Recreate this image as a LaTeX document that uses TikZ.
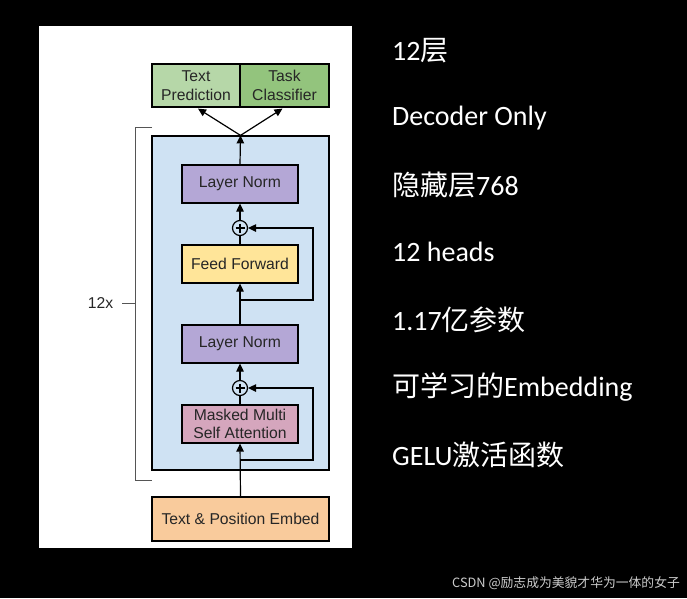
\documentclass[tikz,border=0pt]{standalone}
\usepackage{fontspec}
\setmainfont{Liberation Sans}
\newfontfamily\cjk{Noto Sans CJK SC}
\newfontfamily\calib{Carlito}
\usetikzlibrary{arrows.meta,calc}
\definecolor{cblue}{HTML}{CFE2F3}
\definecolor{cpurple}{HTML}{B4A7D6}
\definecolor{cyellow}{HTML}{FFE599}
\definecolor{cpink}{HTML}{D5A6BD}
\definecolor{corange}{HTML}{F9CB9C}
\definecolor{cgreenA}{HTML}{B6D7A8}
\definecolor{cgreenB}{HTML}{93C47D}
\definecolor{cgrayline}{HTML}{555555}
\tikzset{
  box/.style={draw=black, line width=1.2pt, minimum width=116pt, minimum height=38pt, inner sep=0pt, align=center, font=\fontsize{15.7}{18.5}\selectfont, text=black!85},
  arr/.style={line width=1.2pt, -{Triangle[length=8pt,width=7.5pt]}},
  plain/.style={line width=1.2pt},
  addc/.style={circle, draw=black, line width=1.2pt, minimum size=15pt, inner sep=0pt},
  rtext/.style={anchor=west, text=white, inner sep=0pt, font=\calib\fontsize{28}{31}\selectfont},
}
\begin{document}
\begin{tikzpicture}[x=1pt,y=-1pt]
\fill[black] (0,0) rectangle (687,598);
\useasboundingbox (0,0) rectangle (687,598);
\fill[white] (39,26) rectangle (352,548);

% repeated block
\node[draw=black, line width=1.2pt, fill=cblue, minimum width=177pt, minimum height=334pt, inner sep=0pt] (blk) at (240.5,303) {};

% bracket
\draw[cgrayline, line width=0.8pt] (152,127) -- (135,127) -- (135,480) -- (152,480);
\draw[cgrayline, line width=0.8pt] (122,303) -- (135,303);
\node[font=\fontsize{15.7}{18}\selectfont, text=black!85] (rep) at (100.5,303) {12x};

% output heads
\node[box, fill=cgreenA, minimum width=88pt, minimum height=43pt] (tp) at (196,85.5) {Text\\Prediction};
\node[box, fill=cgreenB, minimum width=89pt, minimum height=43pt] (tc) at (284.5,85.5) {Task\\Classifier};

% inner stack
\node[box, fill=cpurple] (ln1) at (240,184) {Layer Norm};
\node[addc] (c1) at (240,228) {};
\node[box, fill=cyellow] (ff) at (240,264) {Feed Forward};
\node[box, fill=cpurple] (ln2) at (240,344) {Layer Norm};
\node[addc] (c2) at (240,388) {};
\node[box, fill=cpink] (att) at (240,424) {Masked Multi\\Self Attention};

% embedding
\node[box, fill=corange, minimum width=177pt, minimum height=44pt] (emb) at (240.5,519) {Text \& Position Embed};

% plus signs
\draw[line width=1.1pt] ($(c1.center)+(-4.5,0)$) -- ($(c1.center)+(4.5,0)$);
\draw[line width=1.1pt] ($(c1.center)+(0,-4.5)$) -- ($(c1.center)+(0,4.5)$);
\draw[line width=1.1pt] ($(c2.center)+(-4.5,0)$) -- ($(c2.center)+(4.5,0)$);
\draw[line width=1.1pt] ($(c2.center)+(0,-4.5)$) -- ($(c2.center)+(0,4.5)$);

% connectors
\coordinate (r2) at (240,460);
\coordinate (r2e) at (313,460);
\coordinate (r1) at (240,300);
\coordinate (r1e) at (313,300);

\draw[arr] (emb.north) -- (att.south);
\draw[arr] (r2) -- (r2e) |- (c2);
\draw[plain] (att.north) -- (c2);
\draw[arr] (c2) -- (ln2.south);
\draw[arr] (ln2.north) -- (ff.south);
\draw[arr] (r1) -- (r1e) |- (c1);
\draw[plain] (ff.north) -- (c1);
\draw[arr] (c1) -- (ln1.south);
\draw[arr] (ln1.north) -- (blk.north);
\draw[arr] (blk.north) -- ($(tp.south)+(2,1)$);
\draw[arr] (blk.north) -- ($(tc.south)+(-2,1)$);

% right-hand notes
\node[rtext] (t1) at (392,51) {12{\cjk 层}};
\node[rtext] (t2) at (392,118) {Decoder Only};
\node[rtext] (t3) at (392,185) {{\cjk 隐藏层}768};
\node[rtext] (t4) at (392,252) {12 heads};
\node[rtext] (t5) at (392,320) {1.17{\cjk 亿参数}};
\node[rtext] (t6) at (392,387) {{\cjk 可学习的}Embedding};
\node[rtext] (t7) at (392,455) {GELU{\cjk 激活函数}};

% watermark
\node[anchor=west, inner sep=0pt, text=white!80!black, font=\cjk\fontsize{12.8}{14}\selectfont] (wm) at (452,583) {CSDN @励志成为美貌才华为一体的女子};
\end{tikzpicture}
\end{document}
